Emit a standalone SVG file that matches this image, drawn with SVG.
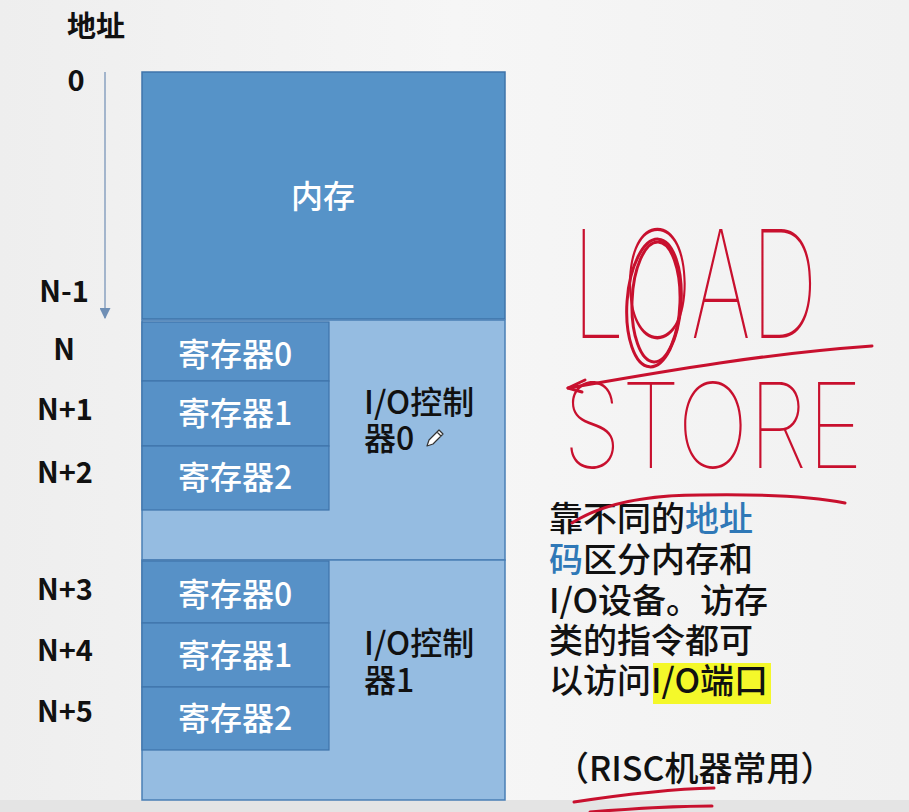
<svg xmlns="http://www.w3.org/2000/svg" width="909" height="812" viewBox="0 0 909 812">
  <defs>
    <marker id="tip" viewBox="0 0 10 10" refX="9" refY="5" markerWidth="11" markerHeight="11" orient="auto" markerUnits="userSpaceOnUse">
      <path d="M0,0 L10,5 L0,10 Z" fill="#6f8fb5"/>
    </marker>
    <linearGradient id="bg" x1="0" y1="0" x2="1" y2="0">
      <stop offset="0" stop-color="#eeeeee"/>
      <stop offset="0.5" stop-color="#f6f6f6"/>
      <stop offset="1" stop-color="#f1f1f1"/>
    </linearGradient>
  </defs>
  <style>
    .lbl { font-family: "Noto Sans CJK SC", "Noto Sans", sans-serif; font-size: 29px; font-weight: 600; fill: #111; }
    .mem { fill: #5693c8; stroke: #3f74aa; stroke-width: 1.5; }
    .io  { fill: #95bce1; stroke: #4a7fb5; stroke-width: 1.5; }
    .reg { fill: #5791c7; stroke: #3f74aa; stroke-width: 1.2; }
    .wt  { font-family: "Noto Sans CJK SC", "Noto Sans", sans-serif; font-size: 32px; font-weight: 500; fill: #ffffff; text-anchor: middle; }
    .dk  { font-family: "Noto Sans CJK SC", "Noto Sans", sans-serif; font-size: 32px; font-weight: 500; fill: #111; }
    .note { font-family: "Noto Sans CJK SC", "Noto Sans", sans-serif; font-size: 34px; font-weight: 500; fill: #111; }
    .blue { fill: #2f78b7; }
    .ink { fill: none; stroke: #c8102e; stroke-width: 3; stroke-linecap: round; stroke-linejoin: round; }
    .hand { font-family: "Inter", "DejaVu Sans", sans-serif; font-weight: 100; fill: #c8102e; }
  </style>

  <rect width="909" height="812" fill="url(#bg)"/>
  <rect y="800" width="909" height="12" fill="#e4e4e4"/>

  <!-- address axis -->
  <g id="axis">
    <text class="lbl" x="67" y="37" font-size="33">地址</text>
    <text class="lbl" x="76" y="91" text-anchor="middle">0</text>
    <text class="lbl" x="64" y="302" text-anchor="middle">N-1</text>
    <text class="lbl" x="64" y="360" text-anchor="middle">N</text>
    <text class="lbl" x="65" y="420" text-anchor="middle">N+1</text>
    <text class="lbl" x="65" y="483" text-anchor="middle">N+2</text>
    <text class="lbl" x="65" y="600" text-anchor="middle">N+3</text>
    <text class="lbl" x="65" y="661" text-anchor="middle">N+4</text>
    <text class="lbl" x="65" y="722" text-anchor="middle">N+5</text>
  </g>

  <g id="connectors">
    <line x1="105" y1="72" x2="105" y2="318" stroke="#8aa2c0" stroke-width="1.5" marker-end="url(#tip)"/>
  </g>

  <!-- main memory -->
  <g id="memory">
    <rect class="mem" x="142" y="72" width="363" height="247"/>
    <text class="wt" x="323" y="208" font-size="33">内存</text>
  </g>

  <!-- I/O controller 0 -->
  <g id="io0">
    <rect class="io" x="142" y="320" width="363" height="240"/>
    <text class="dk" x="364" y="414">I/O控制</text>
    <text class="dk" x="364" y="450">器0</text>
    <!-- pencil cursor -->
    <path d="M427,446 L429,440 L439,430 L443,434 L433,444 Z M437,432 L441,436" fill="#fff" stroke="#333" stroke-width="1.2" stroke-linejoin="round"/>
  </g>
  <g id="io0-reg0"><rect class="reg" x="142" y="322" width="187" height="59"/><text class="wt" x="235" y="366">寄存器0</text></g>
  <g id="io0-reg1"><rect class="reg" x="142" y="381" width="187" height="65"/><text class="wt" x="235" y="425">寄存器1</text></g>
  <g id="io0-reg2"><rect class="reg" x="142" y="446" width="187" height="64"/><text class="wt" x="235" y="489">寄存器2</text></g>

  <!-- I/O controller 1 -->
  <g id="io1">
    <rect class="io" x="142" y="560" width="363" height="240"/>
    <text class="dk" x="364" y="655">I/O控制</text>
    <text class="dk" x="364" y="692">器1</text>
  </g>
  <g id="io1-reg0"><rect class="reg" x="142" y="561" width="187" height="62"/><text class="wt" x="235" y="606">寄存器0</text></g>
  <g id="io1-reg1"><rect class="reg" x="142" y="623" width="187" height="64"/><text class="wt" x="235" y="667">寄存器1</text></g>
  <g id="io1-reg2"><rect class="reg" x="142" y="687" width="187" height="63"/><text class="wt" x="235" y="730">寄存器2</text></g>

  <!-- explanatory note -->
  <g id="note">
    <rect x="653" y="663" width="118" height="41" fill="#f4f82a"/>
    <text class="note" x="549" y="531">靠不同的<tspan class="blue">地址</tspan></text>
    <text class="note" x="549" y="572"><tspan class="blue">码</tspan>区分内存和</text>
    <text class="note" x="549" y="613">I/O设备。访存</text>
    <text class="note" x="549" y="653">类的指令都可</text>
    <text class="note" x="549" y="693">以访问I/O端口</text>
    <text class="note" x="555" y="781" font-size="31">（RISC机器常用）</text>
  </g>

  <!-- red pen annotations -->
  <g id="pen">
    <text class="hand" x="572" y="338" font-size="150" textLength="246" lengthAdjust="spacingAndGlyphs">LOAD</text>
    <text class="hand" x="563" y="468" font-size="118" textLength="300" lengthAdjust="spacingAndGlyphs">STORE</text>
    <ellipse class="ink" cx="654" cy="303" rx="27" ry="64" transform="rotate(4 654 303)"/>
    <ellipse class="ink" cx="656" cy="302" rx="24" ry="60" transform="rotate(2 656 302)" stroke-width="2.5"/>
    <path class="ink" d="M568,388 C660,372 760,354 872,346"/>
    <path class="ink" d="M585,380 L568,388 L582,392"/>
    <path class="ink" d="M572,523 C600,505 640,495 700,495 C760,494 810,496 845,503"/>
    <path class="ink" d="M574,802 C620,795 670,789 714,788"/>
    <path class="ink" d="M590,812 C640,808 690,806 712,806"/>
  </g>
</svg>
